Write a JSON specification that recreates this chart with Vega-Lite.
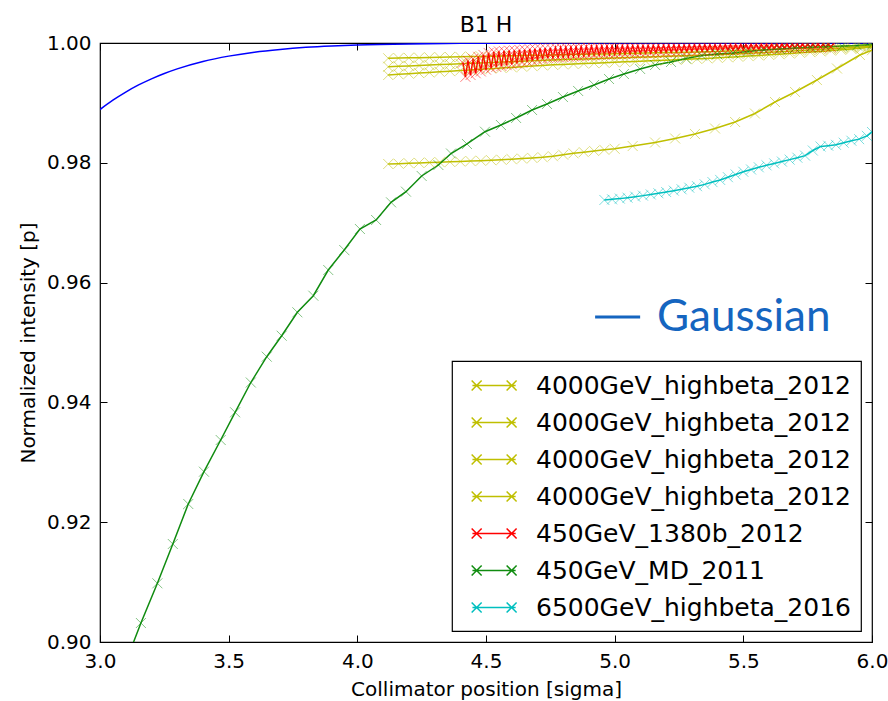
{
  "$schema": "https://vega.github.io/schema/vega-lite/v6.json",
  "width": 772,
  "height": 599,
  "autosize": {"type": "none"},
  "padding": {"left": 100, "top": 43, "right": 16, "bottom": 59},
  "background": "white",
  "title": {"text": "B1 H", "font": "DejaVu Sans", "fontSize": 22, "fontWeight": "normal", "color": "black", "offset": -4},
  "config": {
    "view": {"stroke": "black", "strokeWidth": 1.2},
    "axis": {"grid": false, "domain": false, "ticks": true, "tickColor": "black", "tickSize": -7, "tickWidth": 1, "labelFont": "DejaVu Sans", "labelFontSize": 20, "labelColor": "black", "titleFont": "DejaVu Sans", "titleFontSize": 20, "titleFontWeight": "normal", "titleColor": "black", "labelPadding": 16, "labelFlush": false, "labelOverlap": false, "titlePadding": 8},
    "legend": {"orient": "bottom-right", "offset": 11, "padding": 10, "strokeColor": "black", "strokeWidth": 1.2, "fillColor": "white", "cornerRadius": 0, "labelFont": "DejaVu Sans", "labelFontSize": 25, "labelColor": "black", "labelOffset": 45, "labelLimit": 0, "symbolSize": 729, "symbolStrokeWidth": 1.5, "symbolOpacity": 1, "symbolType": "M-0.3,0H2.9M-0.36,-0.37L0.38,0.37M-0.36,0.37L0.38,-0.37M2.23,-0.37L2.97,0.37M2.23,0.37L2.97,-0.37", "rowPadding": 9}
  },
  "datasets": {
    "gauss": [
      {"x": 3.0, "y": 0.98889}, {"x": 3.05, "y": 0.99045}, {"x": 3.1, "y": 0.99181}, {"x": 3.15, "y": 0.993}, {"x": 3.2, "y": 0.99402}, {"x": 3.25, "y": 0.99491}, {"x": 3.3, "y": 0.99568}, {"x": 3.4, "y": 0.99691}, {"x": 3.5, "y": 0.99781}, {"x": 3.6, "y": 0.99847}, {"x": 3.7, "y": 0.99893}, {"x": 3.8, "y": 0.99927}, {"x": 3.9, "y": 0.9995}, {"x": 4.0, "y": 0.99966}, {"x": 4.2, "y": 0.99985}, {"x": 4.4, "y": 0.99994}, {"x": 4.6, "y": 0.99997}, {"x": 5.0, "y": 1.0}, {"x": 6.0, "y": 1.0}
    ],
    "series": [
      {"s": "4000GeV_highbeta_2012 #1", "x": 4.12, "y": 0.99745}, {"s": "4000GeV_highbeta_2012 #1", "x": 4.16, "y": 0.99748}, {"s": "4000GeV_highbeta_2012 #1", "x": 4.2, "y": 0.99752}, {"s": "4000GeV_highbeta_2012 #1", "x": 4.24, "y": 0.99755}, {"s": "4000GeV_highbeta_2012 #1", "x": 4.28, "y": 0.99759}, {"s": "4000GeV_highbeta_2012 #1", "x": 4.32, "y": 0.99762}, {"s": "4000GeV_highbeta_2012 #1", "x": 4.36, "y": 0.99766}, {"s": "4000GeV_highbeta_2012 #1", "x": 4.4, "y": 0.99769}, {"s": "4000GeV_highbeta_2012 #1", "x": 4.44, "y": 0.99773}, {"s": "4000GeV_highbeta_2012 #1", "x": 4.48, "y": 0.99776}, {"s": "4000GeV_highbeta_2012 #1", "x": 4.52, "y": 0.9978}, {"s": "4000GeV_highbeta_2012 #1", "x": 4.56, "y": 0.99783}, {"s": "4000GeV_highbeta_2012 #1", "x": 4.6, "y": 0.99787}, {"s": "4000GeV_highbeta_2012 #1", "x": 4.64, "y": 0.9979}, {"s": "4000GeV_highbeta_2012 #1", "x": 4.68, "y": 0.99794}, {"s": "4000GeV_highbeta_2012 #1", "x": 4.72, "y": 0.99797}, {"s": "4000GeV_highbeta_2012 #1", "x": 4.76, "y": 0.99801}, {"s": "4000GeV_highbeta_2012 #1", "x": 4.8, "y": 0.99804}, {"s": "4000GeV_highbeta_2012 #1", "x": 4.84, "y": 0.99808}, {"s": "4000GeV_highbeta_2012 #1", "x": 4.88, "y": 0.99811}, {"s": "4000GeV_highbeta_2012 #1", "x": 4.92, "y": 0.99815}, {"s": "4000GeV_highbeta_2012 #1", "x": 4.96, "y": 0.99818}, {"s": "4000GeV_highbeta_2012 #1", "x": 5.0, "y": 0.99822}, {"s": "4000GeV_highbeta_2012 #1", "x": 5.04, "y": 0.99825}, {"s": "4000GeV_highbeta_2012 #1", "x": 5.08, "y": 0.99829}, {"s": "4000GeV_highbeta_2012 #1", "x": 5.12, "y": 0.99832}, {"s": "4000GeV_highbeta_2012 #1", "x": 5.16, "y": 0.99836}, {"s": "4000GeV_highbeta_2012 #1", "x": 5.2, "y": 0.9984}, {"s": "4000GeV_highbeta_2012 #1", "x": 5.24, "y": 0.99843}, {"s": "4000GeV_highbeta_2012 #1", "x": 5.28, "y": 0.99847}, {"s": "4000GeV_highbeta_2012 #1", "x": 5.32, "y": 0.99851}, {"s": "4000GeV_highbeta_2012 #1", "x": 5.36, "y": 0.99855}, {"s": "4000GeV_highbeta_2012 #1", "x": 5.4, "y": 0.9986}, {"s": "4000GeV_highbeta_2012 #1", "x": 5.44, "y": 0.99866}, {"s": "4000GeV_highbeta_2012 #1", "x": 5.48, "y": 0.99872}, {"s": "4000GeV_highbeta_2012 #1", "x": 5.52, "y": 0.99878}, {"s": "4000GeV_highbeta_2012 #1", "x": 5.56, "y": 0.99884}, {"s": "4000GeV_highbeta_2012 #1", "x": 5.6, "y": 0.9989}, {"s": "4000GeV_highbeta_2012 #1", "x": 5.64, "y": 0.99897}, {"s": "4000GeV_highbeta_2012 #1", "x": 5.68, "y": 0.99904}, {"s": "4000GeV_highbeta_2012 #1", "x": 5.72, "y": 0.99911}, {"s": "4000GeV_highbeta_2012 #1", "x": 5.76, "y": 0.99918}, {"s": "4000GeV_highbeta_2012 #1", "x": 5.8, "y": 0.99925}, {"s": "4000GeV_highbeta_2012 #1", "x": 5.84, "y": 0.99932}, {"s": "4000GeV_highbeta_2012 #1", "x": 5.88, "y": 0.9994}, {"s": "4000GeV_highbeta_2012 #1", "x": 5.92, "y": 0.99948}, {"s": "4000GeV_highbeta_2012 #1", "x": 5.96, "y": 0.99957}, {"s": "4000GeV_highbeta_2012 #1", "x": 6.0, "y": 0.99967},
      {"s": "4000GeV_highbeta_2012 #2", "x": 4.12, "y": 0.99604}, {"s": "4000GeV_highbeta_2012 #2", "x": 4.16, "y": 0.99611}, {"s": "4000GeV_highbeta_2012 #2", "x": 4.2, "y": 0.99618}, {"s": "4000GeV_highbeta_2012 #2", "x": 4.24, "y": 0.99625}, {"s": "4000GeV_highbeta_2012 #2", "x": 4.28, "y": 0.99632}, {"s": "4000GeV_highbeta_2012 #2", "x": 4.32, "y": 0.9964}, {"s": "4000GeV_highbeta_2012 #2", "x": 4.36, "y": 0.99647}, {"s": "4000GeV_highbeta_2012 #2", "x": 4.4, "y": 0.99654}, {"s": "4000GeV_highbeta_2012 #2", "x": 4.44, "y": 0.99661}, {"s": "4000GeV_highbeta_2012 #2", "x": 4.48, "y": 0.99668}, {"s": "4000GeV_highbeta_2012 #2", "x": 4.52, "y": 0.99675}, {"s": "4000GeV_highbeta_2012 #2", "x": 4.56, "y": 0.99682}, {"s": "4000GeV_highbeta_2012 #2", "x": 4.6, "y": 0.99689}, {"s": "4000GeV_highbeta_2012 #2", "x": 4.64, "y": 0.99696}, {"s": "4000GeV_highbeta_2012 #2", "x": 4.68, "y": 0.99703}, {"s": "4000GeV_highbeta_2012 #2", "x": 4.72, "y": 0.9971}, {"s": "4000GeV_highbeta_2012 #2", "x": 4.76, "y": 0.99717}, {"s": "4000GeV_highbeta_2012 #2", "x": 4.8, "y": 0.99723}, {"s": "4000GeV_highbeta_2012 #2", "x": 4.84, "y": 0.99728}, {"s": "4000GeV_highbeta_2012 #2", "x": 4.88, "y": 0.99734}, {"s": "4000GeV_highbeta_2012 #2", "x": 4.92, "y": 0.99739}, {"s": "4000GeV_highbeta_2012 #2", "x": 4.96, "y": 0.99744}, {"s": "4000GeV_highbeta_2012 #2", "x": 5.0, "y": 0.9975}, {"s": "4000GeV_highbeta_2012 #2", "x": 5.04, "y": 0.99755}, {"s": "4000GeV_highbeta_2012 #2", "x": 5.08, "y": 0.99761}, {"s": "4000GeV_highbeta_2012 #2", "x": 5.12, "y": 0.99766}, {"s": "4000GeV_highbeta_2012 #2", "x": 5.16, "y": 0.99771}, {"s": "4000GeV_highbeta_2012 #2", "x": 5.2, "y": 0.99777}, {"s": "4000GeV_highbeta_2012 #2", "x": 5.24, "y": 0.99782}, {"s": "4000GeV_highbeta_2012 #2", "x": 5.28, "y": 0.99788}, {"s": "4000GeV_highbeta_2012 #2", "x": 5.32, "y": 0.99793}, {"s": "4000GeV_highbeta_2012 #2", "x": 5.36, "y": 0.99798}, {"s": "4000GeV_highbeta_2012 #2", "x": 5.4, "y": 0.99805}, {"s": "4000GeV_highbeta_2012 #2", "x": 5.44, "y": 0.99812}, {"s": "4000GeV_highbeta_2012 #2", "x": 5.48, "y": 0.9982}, {"s": "4000GeV_highbeta_2012 #2", "x": 5.52, "y": 0.99828}, {"s": "4000GeV_highbeta_2012 #2", "x": 5.56, "y": 0.99836}, {"s": "4000GeV_highbeta_2012 #2", "x": 5.6, "y": 0.99845}, {"s": "4000GeV_highbeta_2012 #2", "x": 5.64, "y": 0.99854}, {"s": "4000GeV_highbeta_2012 #2", "x": 5.68, "y": 0.99863}, {"s": "4000GeV_highbeta_2012 #2", "x": 5.72, "y": 0.99873}, {"s": "4000GeV_highbeta_2012 #2", "x": 5.76, "y": 0.99883}, {"s": "4000GeV_highbeta_2012 #2", "x": 5.8, "y": 0.99893}, {"s": "4000GeV_highbeta_2012 #2", "x": 5.84, "y": 0.99903}, {"s": "4000GeV_highbeta_2012 #2", "x": 5.88, "y": 0.99914}, {"s": "4000GeV_highbeta_2012 #2", "x": 5.92, "y": 0.99925}, {"s": "4000GeV_highbeta_2012 #2", "x": 5.96, "y": 0.99937}, {"s": "4000GeV_highbeta_2012 #2", "x": 6.0, "y": 0.9995},
      {"s": "4000GeV_highbeta_2012 #3", "x": 4.12, "y": 0.99466}, {"s": "4000GeV_highbeta_2012 #3", "x": 4.16, "y": 0.99477}, {"s": "4000GeV_highbeta_2012 #3", "x": 4.2, "y": 0.99487}, {"s": "4000GeV_highbeta_2012 #3", "x": 4.24, "y": 0.99498}, {"s": "4000GeV_highbeta_2012 #3", "x": 4.28, "y": 0.99508}, {"s": "4000GeV_highbeta_2012 #3", "x": 4.32, "y": 0.99519}, {"s": "4000GeV_highbeta_2012 #3", "x": 4.36, "y": 0.9953}, {"s": "4000GeV_highbeta_2012 #3", "x": 4.4, "y": 0.9954}, {"s": "4000GeV_highbeta_2012 #3", "x": 4.44, "y": 0.99551}, {"s": "4000GeV_highbeta_2012 #3", "x": 4.48, "y": 0.99561}, {"s": "4000GeV_highbeta_2012 #3", "x": 4.52, "y": 0.99572}, {"s": "4000GeV_highbeta_2012 #3", "x": 4.56, "y": 0.99583}, {"s": "4000GeV_highbeta_2012 #3", "x": 4.6, "y": 0.99593}, {"s": "4000GeV_highbeta_2012 #3", "x": 4.64, "y": 0.99604}, {"s": "4000GeV_highbeta_2012 #3", "x": 4.68, "y": 0.99614}, {"s": "4000GeV_highbeta_2012 #3", "x": 4.72, "y": 0.99625}, {"s": "4000GeV_highbeta_2012 #3", "x": 4.76, "y": 0.99635}, {"s": "4000GeV_highbeta_2012 #3", "x": 4.8, "y": 0.99642}, {"s": "4000GeV_highbeta_2012 #3", "x": 4.84, "y": 0.99649}, {"s": "4000GeV_highbeta_2012 #3", "x": 4.88, "y": 0.99656}, {"s": "4000GeV_highbeta_2012 #3", "x": 4.92, "y": 0.99664}, {"s": "4000GeV_highbeta_2012 #3", "x": 4.96, "y": 0.99671}, {"s": "4000GeV_highbeta_2012 #3", "x": 5.0, "y": 0.99678}, {"s": "4000GeV_highbeta_2012 #3", "x": 5.04, "y": 0.99685}, {"s": "4000GeV_highbeta_2012 #3", "x": 5.08, "y": 0.99692}, {"s": "4000GeV_highbeta_2012 #3", "x": 5.12, "y": 0.997}, {"s": "4000GeV_highbeta_2012 #3", "x": 5.16, "y": 0.99707}, {"s": "4000GeV_highbeta_2012 #3", "x": 5.2, "y": 0.99714}, {"s": "4000GeV_highbeta_2012 #3", "x": 5.24, "y": 0.99721}, {"s": "4000GeV_highbeta_2012 #3", "x": 5.28, "y": 0.99728}, {"s": "4000GeV_highbeta_2012 #3", "x": 5.32, "y": 0.99736}, {"s": "4000GeV_highbeta_2012 #3", "x": 5.36, "y": 0.99743}, {"s": "4000GeV_highbeta_2012 #3", "x": 5.4, "y": 0.99752}, {"s": "4000GeV_highbeta_2012 #3", "x": 5.44, "y": 0.99761}, {"s": "4000GeV_highbeta_2012 #3", "x": 5.48, "y": 0.99771}, {"s": "4000GeV_highbeta_2012 #3", "x": 5.52, "y": 0.99781}, {"s": "4000GeV_highbeta_2012 #3", "x": 5.56, "y": 0.99791}, {"s": "4000GeV_highbeta_2012 #3", "x": 5.6, "y": 0.99802}, {"s": "4000GeV_highbeta_2012 #3", "x": 5.64, "y": 0.99813}, {"s": "4000GeV_highbeta_2012 #3", "x": 5.68, "y": 0.99824}, {"s": "4000GeV_highbeta_2012 #3", "x": 5.72, "y": 0.99836}, {"s": "4000GeV_highbeta_2012 #3", "x": 5.76, "y": 0.99848}, {"s": "4000GeV_highbeta_2012 #3", "x": 5.8, "y": 0.9986}, {"s": "4000GeV_highbeta_2012 #3", "x": 5.84, "y": 0.99873}, {"s": "4000GeV_highbeta_2012 #3", "x": 5.88, "y": 0.99886}, {"s": "4000GeV_highbeta_2012 #3", "x": 5.92, "y": 0.999}, {"s": "4000GeV_highbeta_2012 #3", "x": 5.96, "y": 0.99916}, {"s": "4000GeV_highbeta_2012 #3", "x": 6.0, "y": 0.99933},
      {"s": "4000GeV_highbeta_2012 #4", "x": 4.12, "y": 0.9798}, {"s": "4000GeV_highbeta_2012 #4", "x": 4.16, "y": 0.97986}, {"s": "4000GeV_highbeta_2012 #4", "x": 4.2, "y": 0.97992}, {"s": "4000GeV_highbeta_2012 #4", "x": 4.24, "y": 0.97998}, {"s": "4000GeV_highbeta_2012 #4", "x": 4.28, "y": 0.98004}, {"s": "4000GeV_highbeta_2012 #4", "x": 4.32, "y": 0.9801}, {"s": "4000GeV_highbeta_2012 #4", "x": 4.36, "y": 0.98016}, {"s": "4000GeV_highbeta_2012 #4", "x": 4.4, "y": 0.98022}, {"s": "4000GeV_highbeta_2012 #4", "x": 4.44, "y": 0.98029}, {"s": "4000GeV_highbeta_2012 #4", "x": 4.48, "y": 0.98035}, {"s": "4000GeV_highbeta_2012 #4", "x": 4.52, "y": 0.98043}, {"s": "4000GeV_highbeta_2012 #4", "x": 4.56, "y": 0.98051}, {"s": "4000GeV_highbeta_2012 #4", "x": 4.6, "y": 0.9806}, {"s": "4000GeV_highbeta_2012 #4", "x": 4.64, "y": 0.9807}, {"s": "4000GeV_highbeta_2012 #4", "x": 4.68, "y": 0.98081}, {"s": "4000GeV_highbeta_2012 #4", "x": 4.72, "y": 0.98093}, {"s": "4000GeV_highbeta_2012 #4", "x": 4.76, "y": 0.9811}, {"s": "4000GeV_highbeta_2012 #4", "x": 4.8, "y": 0.98135}, {"s": "4000GeV_highbeta_2012 #4", "x": 4.84, "y": 0.98158}, {"s": "4000GeV_highbeta_2012 #4", "x": 4.88, "y": 0.98178}, {"s": "4000GeV_highbeta_2012 #4", "x": 4.92, "y": 0.98198}, {"s": "4000GeV_highbeta_2012 #4", "x": 4.96, "y": 0.98216}, {"s": "4000GeV_highbeta_2012 #4", "x": 5.0, "y": 0.98234}, {"s": "4000GeV_highbeta_2012 #4", "x": 5.07, "y": 0.9828}, {"s": "4000GeV_highbeta_2012 #4", "x": 5.157, "y": 0.98339}, {"s": "4000GeV_highbeta_2012 #4", "x": 5.235, "y": 0.98406}, {"s": "4000GeV_highbeta_2012 #4", "x": 5.312, "y": 0.98481}, {"s": "4000GeV_highbeta_2012 #4", "x": 5.39, "y": 0.98573}, {"s": "4000GeV_highbeta_2012 #4", "x": 5.468, "y": 0.98681}, {"s": "4000GeV_highbeta_2012 #4", "x": 5.545, "y": 0.98823}, {"s": "4000GeV_highbeta_2012 #4", "x": 5.623, "y": 0.99015}, {"s": "4000GeV_highbeta_2012 #4", "x": 5.701, "y": 0.99182}, {"s": "4000GeV_highbeta_2012 #4", "x": 5.786, "y": 0.99382}, {"s": "4000GeV_highbeta_2012 #4", "x": 5.864, "y": 0.99574}, {"s": "4000GeV_highbeta_2012 #4", "x": 5.953, "y": 0.998}, {"s": "4000GeV_highbeta_2012 #4", "x": 6.0, "y": 0.9988},
      {"s": "450GeV_1380b_2012", "x": 4.41, "y": 0.99671}, {"s": "450GeV_1380b_2012", "x": 4.42, "y": 0.99435}, {"s": "450GeV_1380b_2012", "x": 4.43, "y": 0.99704}, {"s": "450GeV_1380b_2012", "x": 4.44, "y": 0.99465}, {"s": "450GeV_1380b_2012", "x": 4.45, "y": 0.99736}, {"s": "450GeV_1380b_2012", "x": 4.46, "y": 0.99495}, {"s": "450GeV_1380b_2012", "x": 4.47, "y": 0.99769}, {"s": "450GeV_1380b_2012", "x": 4.48, "y": 0.99525}, {"s": "450GeV_1380b_2012", "x": 4.49, "y": 0.99801}, {"s": "450GeV_1380b_2012", "x": 4.5, "y": 0.99555}, {"s": "450GeV_1380b_2012", "x": 4.51, "y": 0.99834}, {"s": "450GeV_1380b_2012", "x": 4.52, "y": 0.99585}, {"s": "450GeV_1380b_2012", "x": 4.53, "y": 0.99853}, {"s": "450GeV_1380b_2012", "x": 4.54, "y": 0.996}, {"s": "450GeV_1380b_2012", "x": 4.55, "y": 0.99859}, {"s": "450GeV_1380b_2012", "x": 4.56, "y": 0.99615}, {"s": "450GeV_1380b_2012", "x": 4.57, "y": 0.99865}, {"s": "450GeV_1380b_2012", "x": 4.58, "y": 0.9963}, {"s": "450GeV_1380b_2012", "x": 4.59, "y": 0.99871}, {"s": "450GeV_1380b_2012", "x": 4.6, "y": 0.99645}, {"s": "450GeV_1380b_2012", "x": 4.61, "y": 0.99877}, {"s": "450GeV_1380b_2012", "x": 4.62, "y": 0.9966}, {"s": "450GeV_1380b_2012", "x": 4.63, "y": 0.99884}, {"s": "450GeV_1380b_2012", "x": 4.64, "y": 0.99675}, {"s": "450GeV_1380b_2012", "x": 4.65, "y": 0.9989}, {"s": "450GeV_1380b_2012", "x": 4.66, "y": 0.9969}, {"s": "450GeV_1380b_2012", "x": 4.67, "y": 0.99896}, {"s": "450GeV_1380b_2012", "x": 4.68, "y": 0.99705}, {"s": "450GeV_1380b_2012", "x": 4.69, "y": 0.99902}, {"s": "450GeV_1380b_2012", "x": 4.7, "y": 0.9972}, {"s": "450GeV_1380b_2012", "x": 4.71, "y": 0.99908}, {"s": "450GeV_1380b_2012", "x": 4.72, "y": 0.99735}, {"s": "450GeV_1380b_2012", "x": 4.73, "y": 0.99914}, {"s": "450GeV_1380b_2012", "x": 4.74, "y": 0.9975}, {"s": "450GeV_1380b_2012", "x": 4.75, "y": 0.99919}, {"s": "450GeV_1380b_2012", "x": 4.76, "y": 0.99755}, {"s": "450GeV_1380b_2012", "x": 4.77, "y": 0.99922}, {"s": "450GeV_1380b_2012", "x": 4.78, "y": 0.9976}, {"s": "450GeV_1380b_2012", "x": 4.79, "y": 0.99925}, {"s": "450GeV_1380b_2012", "x": 4.8, "y": 0.99765}, {"s": "450GeV_1380b_2012", "x": 4.81, "y": 0.99929}, {"s": "450GeV_1380b_2012", "x": 4.82, "y": 0.9977}, {"s": "450GeV_1380b_2012", "x": 4.83, "y": 0.99932}, {"s": "450GeV_1380b_2012", "x": 4.84, "y": 0.99775}, {"s": "450GeV_1380b_2012", "x": 4.85, "y": 0.99935}, {"s": "450GeV_1380b_2012", "x": 4.86, "y": 0.9978}, {"s": "450GeV_1380b_2012", "x": 4.87, "y": 0.99939}, {"s": "450GeV_1380b_2012", "x": 4.88, "y": 0.99785}, {"s": "450GeV_1380b_2012", "x": 4.89, "y": 0.99942}, {"s": "450GeV_1380b_2012", "x": 4.9, "y": 0.9979}, {"s": "450GeV_1380b_2012", "x": 4.91, "y": 0.99945}, {"s": "450GeV_1380b_2012", "x": 4.92, "y": 0.99795}, {"s": "450GeV_1380b_2012", "x": 4.93, "y": 0.99948}, {"s": "450GeV_1380b_2012", "x": 4.94, "y": 0.998}, {"s": "450GeV_1380b_2012", "x": 4.95, "y": 0.9995}, {"s": "450GeV_1380b_2012", "x": 4.96, "y": 0.99803}, {"s": "450GeV_1380b_2012", "x": 4.97, "y": 0.99951}, {"s": "450GeV_1380b_2012", "x": 4.98, "y": 0.99807}, {"s": "450GeV_1380b_2012", "x": 4.99, "y": 0.99952}, {"s": "450GeV_1380b_2012", "x": 5.0, "y": 0.9981}, {"s": "450GeV_1380b_2012", "x": 5.01, "y": 0.99953}, {"s": "450GeV_1380b_2012", "x": 5.02, "y": 0.99814}, {"s": "450GeV_1380b_2012", "x": 5.03, "y": 0.99954}, {"s": "450GeV_1380b_2012", "x": 5.04, "y": 0.99817}, {"s": "450GeV_1380b_2012", "x": 5.05, "y": 0.99955}, {"s": "450GeV_1380b_2012", "x": 5.06, "y": 0.9982}, {"s": "450GeV_1380b_2012", "x": 5.07, "y": 0.99956}, {"s": "450GeV_1380b_2012", "x": 5.08, "y": 0.99824}, {"s": "450GeV_1380b_2012", "x": 5.09, "y": 0.99957}, {"s": "450GeV_1380b_2012", "x": 5.1, "y": 0.99827}, {"s": "450GeV_1380b_2012", "x": 5.11, "y": 0.99957}, {"s": "450GeV_1380b_2012", "x": 5.12, "y": 0.9983}, {"s": "450GeV_1380b_2012", "x": 5.13, "y": 0.99958}, {"s": "450GeV_1380b_2012", "x": 5.14, "y": 0.99834}, {"s": "450GeV_1380b_2012", "x": 5.15, "y": 0.99959}, {"s": "450GeV_1380b_2012", "x": 5.16, "y": 0.99837}, {"s": "450GeV_1380b_2012", "x": 5.17, "y": 0.9996}, {"s": "450GeV_1380b_2012", "x": 5.18, "y": 0.99841}, {"s": "450GeV_1380b_2012", "x": 5.19, "y": 0.99961}, {"s": "450GeV_1380b_2012", "x": 5.2, "y": 0.99844}, {"s": "450GeV_1380b_2012", "x": 5.21, "y": 0.99962}, {"s": "450GeV_1380b_2012", "x": 5.22, "y": 0.99847}, {"s": "450GeV_1380b_2012", "x": 5.23, "y": 0.99963}, {"s": "450GeV_1380b_2012", "x": 5.24, "y": 0.99851}, {"s": "450GeV_1380b_2012", "x": 5.25, "y": 0.99964}, {"s": "450GeV_1380b_2012", "x": 5.26, "y": 0.99854}, {"s": "450GeV_1380b_2012", "x": 5.27, "y": 0.99964}, {"s": "450GeV_1380b_2012", "x": 5.28, "y": 0.99858}, {"s": "450GeV_1380b_2012", "x": 5.29, "y": 0.99965}, {"s": "450GeV_1380b_2012", "x": 5.3, "y": 0.99861}, {"s": "450GeV_1380b_2012", "x": 5.31, "y": 0.99966}, {"s": "450GeV_1380b_2012", "x": 5.32, "y": 0.99864}, {"s": "450GeV_1380b_2012", "x": 5.33, "y": 0.99967}, {"s": "450GeV_1380b_2012", "x": 5.34, "y": 0.99867}, {"s": "450GeV_1380b_2012", "x": 5.35, "y": 0.99968}, {"s": "450GeV_1380b_2012", "x": 5.36, "y": 0.9987}, {"s": "450GeV_1380b_2012", "x": 5.37, "y": 0.99969}, {"s": "450GeV_1380b_2012", "x": 5.38, "y": 0.99872}, {"s": "450GeV_1380b_2012", "x": 5.39, "y": 0.99969}, {"s": "450GeV_1380b_2012", "x": 5.4, "y": 0.99875}, {"s": "450GeV_1380b_2012", "x": 5.41, "y": 0.9997}, {"s": "450GeV_1380b_2012", "x": 5.42, "y": 0.99878}, {"s": "450GeV_1380b_2012", "x": 5.43, "y": 0.99971}, {"s": "450GeV_1380b_2012", "x": 5.44, "y": 0.9988}, {"s": "450GeV_1380b_2012", "x": 5.45, "y": 0.99972}, {"s": "450GeV_1380b_2012", "x": 5.46, "y": 0.99883}, {"s": "450GeV_1380b_2012", "x": 5.47, "y": 0.99973}, {"s": "450GeV_1380b_2012", "x": 5.48, "y": 0.99887}, {"s": "450GeV_1380b_2012", "x": 5.49, "y": 0.99974}, {"s": "450GeV_1380b_2012", "x": 5.5, "y": 0.99888}, {"s": "450GeV_1380b_2012", "x": 5.51, "y": 0.99974}, {"s": "450GeV_1380b_2012", "x": 5.52, "y": 0.99891}, {"s": "450GeV_1380b_2012", "x": 5.53, "y": 0.99975}, {"s": "450GeV_1380b_2012", "x": 5.54, "y": 0.99893}, {"s": "450GeV_1380b_2012", "x": 5.55, "y": 0.99976}, {"s": "450GeV_1380b_2012", "x": 5.56, "y": 0.99896}, {"s": "450GeV_1380b_2012", "x": 5.57, "y": 0.99977}, {"s": "450GeV_1380b_2012", "x": 5.58, "y": 0.99899}, {"s": "450GeV_1380b_2012", "x": 5.59, "y": 0.99978}, {"s": "450GeV_1380b_2012", "x": 5.6, "y": 0.99901}, {"s": "450GeV_1380b_2012", "x": 5.61, "y": 0.99979}, {"s": "450GeV_1380b_2012", "x": 5.62, "y": 0.99904}, {"s": "450GeV_1380b_2012", "x": 5.63, "y": 0.99979}, {"s": "450GeV_1380b_2012", "x": 5.64, "y": 0.99907}, {"s": "450GeV_1380b_2012", "x": 5.65, "y": 0.9998}, {"s": "450GeV_1380b_2012", "x": 5.66, "y": 0.99909}, {"s": "450GeV_1380b_2012", "x": 5.67, "y": 0.99981}, {"s": "450GeV_1380b_2012", "x": 5.68, "y": 0.99912}, {"s": "450GeV_1380b_2012", "x": 5.69, "y": 0.99982}, {"s": "450GeV_1380b_2012", "x": 5.7, "y": 0.99914}, {"s": "450GeV_1380b_2012", "x": 5.71, "y": 0.99983}, {"s": "450GeV_1380b_2012", "x": 5.72, "y": 0.99917}, {"s": "450GeV_1380b_2012", "x": 5.73, "y": 0.99983}, {"s": "450GeV_1380b_2012", "x": 5.74, "y": 0.99919}, {"s": "450GeV_1380b_2012", "x": 5.75, "y": 0.99983}, {"s": "450GeV_1380b_2012", "x": 5.76, "y": 0.99922}, {"s": "450GeV_1380b_2012", "x": 5.77, "y": 0.99983}, {"s": "450GeV_1380b_2012", "x": 5.78, "y": 0.99924}, {"s": "450GeV_1380b_2012", "x": 5.79, "y": 0.99983}, {"s": "450GeV_1380b_2012", "x": 5.8, "y": 0.99927}, {"s": "450GeV_1380b_2012", "x": 5.81, "y": 0.99983}, {"s": "450GeV_1380b_2012", "x": 5.82, "y": 0.99929}, {"s": "450GeV_1380b_2012", "x": 5.83, "y": 0.99983}, {"s": "450GeV_1380b_2012", "x": 5.84, "y": 0.99932}, {"s": "450GeV_1380b_2012", "x": 5.85, "y": 0.99983},
      {"s": "450GeV_MD_2011", "x": 3.1, "y": 0.8966}, {"s": "450GeV_MD_2011", "x": 3.159, "y": 0.90317}, {"s": "450GeV_MD_2011", "x": 3.223, "y": 0.9098}, {"s": "450GeV_MD_2011", "x": 3.283, "y": 0.91636}, {"s": "450GeV_MD_2011", "x": 3.343, "y": 0.92304}, {"s": "450GeV_MD_2011", "x": 3.404, "y": 0.92843}, {"s": "450GeV_MD_2011", "x": 3.469, "y": 0.93372}, {"s": "450GeV_MD_2011", "x": 3.525, "y": 0.93835}, {"s": "450GeV_MD_2011", "x": 3.586, "y": 0.94332}, {"s": "450GeV_MD_2011", "x": 3.648, "y": 0.94763}, {"s": "450GeV_MD_2011", "x": 3.706, "y": 0.95113}, {"s": "450GeV_MD_2011", "x": 3.767, "y": 0.95504}, {"s": "450GeV_MD_2011", "x": 3.829, "y": 0.95781}, {"s": "450GeV_MD_2011", "x": 3.887, "y": 0.9621}, {"s": "450GeV_MD_2011", "x": 3.949, "y": 0.96544}, {"s": "450GeV_MD_2011", "x": 4.01, "y": 0.96895}, {"s": "450GeV_MD_2011", "x": 4.073, "y": 0.97045}, {"s": "450GeV_MD_2011", "x": 4.131, "y": 0.9734}, {"s": "450GeV_MD_2011", "x": 4.189, "y": 0.97518}, {"s": "450GeV_MD_2011", "x": 4.25, "y": 0.9778}, {"s": "450GeV_MD_2011", "x": 4.315, "y": 0.97963}, {"s": "450GeV_MD_2011", "x": 4.364, "y": 0.98155}, {"s": "450GeV_MD_2011", "x": 4.426, "y": 0.98314}, {"s": "450GeV_MD_2011", "x": 4.496, "y": 0.98519}, {"s": "450GeV_MD_2011", "x": 4.558, "y": 0.98631}, {"s": "450GeV_MD_2011", "x": 4.617, "y": 0.98748}, {"s": "450GeV_MD_2011", "x": 4.679, "y": 0.98881}, {"s": "450GeV_MD_2011", "x": 4.737, "y": 0.98982}, {"s": "450GeV_MD_2011", "x": 4.799, "y": 0.99098}, {"s": "450GeV_MD_2011", "x": 4.858, "y": 0.99199}, {"s": "450GeV_MD_2011", "x": 4.92, "y": 0.99299}, {"s": "450GeV_MD_2011", "x": 4.978, "y": 0.99399}, {"s": "450GeV_MD_2011", "x": 5.036, "y": 0.99482}, {"s": "450GeV_MD_2011", "x": 5.099, "y": 0.99566}, {"s": "450GeV_MD_2011", "x": 5.157, "y": 0.99633}, {"s": "450GeV_MD_2011", "x": 5.219, "y": 0.99683}, {"s": "450GeV_MD_2011", "x": 5.277, "y": 0.99741}, {"s": "450GeV_MD_2011", "x": 5.339, "y": 0.99791}, {"s": "450GeV_MD_2011", "x": 5.398, "y": 0.99816}, {"s": "450GeV_MD_2011", "x": 5.46, "y": 0.99833}, {"s": "450GeV_MD_2011", "x": 5.518, "y": 0.99858}, {"s": "450GeV_MD_2011", "x": 5.58, "y": 0.99883}, {"s": "450GeV_MD_2011", "x": 5.643, "y": 0.999}, {"s": "450GeV_MD_2011", "x": 5.701, "y": 0.99917}, {"s": "450GeV_MD_2011", "x": 5.763, "y": 0.99928}, {"s": "450GeV_MD_2011", "x": 5.821, "y": 0.99938}, {"s": "450GeV_MD_2011", "x": 5.884, "y": 0.9995}, {"s": "450GeV_MD_2011", "x": 5.942, "y": 0.99958}, {"s": "450GeV_MD_2011", "x": 6.0, "y": 0.99975},
      {"s": "6500GeV_highbeta_2016", "x": 4.96, "y": 0.97379}, {"s": "6500GeV_highbeta_2016", "x": 4.99, "y": 0.9739}, {"s": "6500GeV_highbeta_2016", "x": 5.02, "y": 0.97402}, {"s": "6500GeV_highbeta_2016", "x": 5.05, "y": 0.97418}, {"s": "6500GeV_highbeta_2016", "x": 5.08, "y": 0.97435}, {"s": "6500GeV_highbeta_2016", "x": 5.11, "y": 0.97452}, {"s": "6500GeV_highbeta_2016", "x": 5.14, "y": 0.97472}, {"s": "6500GeV_highbeta_2016", "x": 5.17, "y": 0.97491}, {"s": "6500GeV_highbeta_2016", "x": 5.2, "y": 0.97512}, {"s": "6500GeV_highbeta_2016", "x": 5.23, "y": 0.97535}, {"s": "6500GeV_highbeta_2016", "x": 5.26, "y": 0.97558}, {"s": "6500GeV_highbeta_2016", "x": 5.29, "y": 0.97584}, {"s": "6500GeV_highbeta_2016", "x": 5.32, "y": 0.9761}, {"s": "6500GeV_highbeta_2016", "x": 5.35, "y": 0.9764}, {"s": "6500GeV_highbeta_2016", "x": 5.38, "y": 0.97678}, {"s": "6500GeV_highbeta_2016", "x": 5.41, "y": 0.97714}, {"s": "6500GeV_highbeta_2016", "x": 5.44, "y": 0.9776}, {"s": "6500GeV_highbeta_2016", "x": 5.47, "y": 0.97805}, {"s": "6500GeV_highbeta_2016", "x": 5.5, "y": 0.9785}, {"s": "6500GeV_highbeta_2016", "x": 5.53, "y": 0.97888}, {"s": "6500GeV_highbeta_2016", "x": 5.56, "y": 0.97925}, {"s": "6500GeV_highbeta_2016", "x": 5.59, "y": 0.97958}, {"s": "6500GeV_highbeta_2016", "x": 5.62, "y": 0.9799}, {"s": "6500GeV_highbeta_2016", "x": 5.65, "y": 0.9802}, {"s": "6500GeV_highbeta_2016", "x": 5.68, "y": 0.98053}, {"s": "6500GeV_highbeta_2016", "x": 5.71, "y": 0.98085}, {"s": "6500GeV_highbeta_2016", "x": 5.74, "y": 0.9812}, {"s": "6500GeV_highbeta_2016", "x": 5.77, "y": 0.98205}, {"s": "6500GeV_highbeta_2016", "x": 5.8, "y": 0.98272}, {"s": "6500GeV_highbeta_2016", "x": 5.83, "y": 0.98285}, {"s": "6500GeV_highbeta_2016", "x": 5.86, "y": 0.983}, {"s": "6500GeV_highbeta_2016", "x": 5.89, "y": 0.98335}, {"s": "6500GeV_highbeta_2016", "x": 5.92, "y": 0.98368}, {"s": "6500GeV_highbeta_2016", "x": 5.95, "y": 0.98395}, {"s": "6500GeV_highbeta_2016", "x": 5.98, "y": 0.9845}, {"s": "6500GeV_highbeta_2016", "x": 6.0, "y": 0.98514}
    ]
  },
  "layer": [
    {
      "data": {"name": "gauss"},
      "mark": {"type": "line", "color": "#0000ff", "strokeWidth": 1.5, "interpolate": "monotone", "clip": true},
      "encoding": {
        "x": {"field": "x", "type": "quantitative", "scale": {"domain": [3, 6], "nice": false, "zero": false}, "axis": {"orient": "bottom", "title": "Collimator position [sigma]", "values": [3, 3.5, 4, 4.5, 5, 5.5, 6], "format": ".1f"}},
        "y": {"field": "y", "type": "quantitative", "scale": {"domain": [0.9, 1.0], "nice": false, "zero": false}, "axis": {"orient": "left", "title": "Normalized intensity [p]", "values": [0.9, 0.92, 0.94, 0.96, 0.98, 1.0], "format": ".2f"}}
      }
    },
    {
      "data": {"name": "series"},
      "mark": {"type": "line", "strokeWidth": 1.5, "clip": true},
      "encoding": {
        "x": {"field": "x", "type": "quantitative", "axis": {"orient": "top", "labels": false, "title": null, "values": [3, 3.5, 4, 4.5, 5, 5.5, 6]}},
        "y": {"field": "y", "type": "quantitative", "axis": {"orient": "right", "labels": false, "title": null, "values": [0.9, 0.92, 0.94, 0.96, 0.98, 1.0]}},
        "color": {"field": "s", "type": "nominal", "scale": {"domain": ["4000GeV_highbeta_2012 #1", "4000GeV_highbeta_2012 #2", "4000GeV_highbeta_2012 #3", "4000GeV_highbeta_2012 #4", "450GeV_1380b_2012", "450GeV_MD_2011", "6500GeV_highbeta_2016"], "range": ["#bfbf00", "#bfbf00", "#bfbf00", "#bfbf00", "#ff0000", "#108c10", "#00bfbf"]}, "legend": {"title": null, "labelExpr": "split(datum.label, ' #')[0]"}}
      }
    },
    {
      "data": {"name": "series"},
      "mark": {"type": "point", "shape": "M-1,-1L1,1M-1,1L1,-1", "filled": false, "size": 100, "strokeWidth": 1, "opacity": 0.5, "clip": true},
      "encoding": {
        "x": {"field": "x", "type": "quantitative", "axis": null},
        "y": {"field": "y", "type": "quantitative", "axis": null},
        "color": {"field": "s", "type": "nominal", "legend": {"title": null, "labelExpr": "split(datum.label, ' #')[0]"}}
      }
    },
    {
      "data": {"values": [{}]},
      "mark": {"type": "rule", "color": "#1565c0", "strokeWidth": 3},
      "encoding": {
        "x": {"datum": 4.924, "type": "quantitative", "axis": null},
        "x2": {"datum": 5.099},
        "y": {"datum": 0.95426, "type": "quantitative", "axis": null}
      }
    },
    {
      "data": {"values": [{"label": "Gaussian"}]},
      "mark": {"type": "text", "font": "Lato", "fontSize": 44, "color": "#1565c0", "align": "left", "baseline": "alphabetic"},
      "encoding": {
        "x": {"datum": 5.1646, "type": "quantitative", "axis": null},
        "y": {"datum": 0.95192, "type": "quantitative", "axis": null},
        "text": {"field": "label", "type": "nominal"}
      }
    }
  ],
  "resolve": {"axis": {"x": "independent", "y": "independent"}}
}
